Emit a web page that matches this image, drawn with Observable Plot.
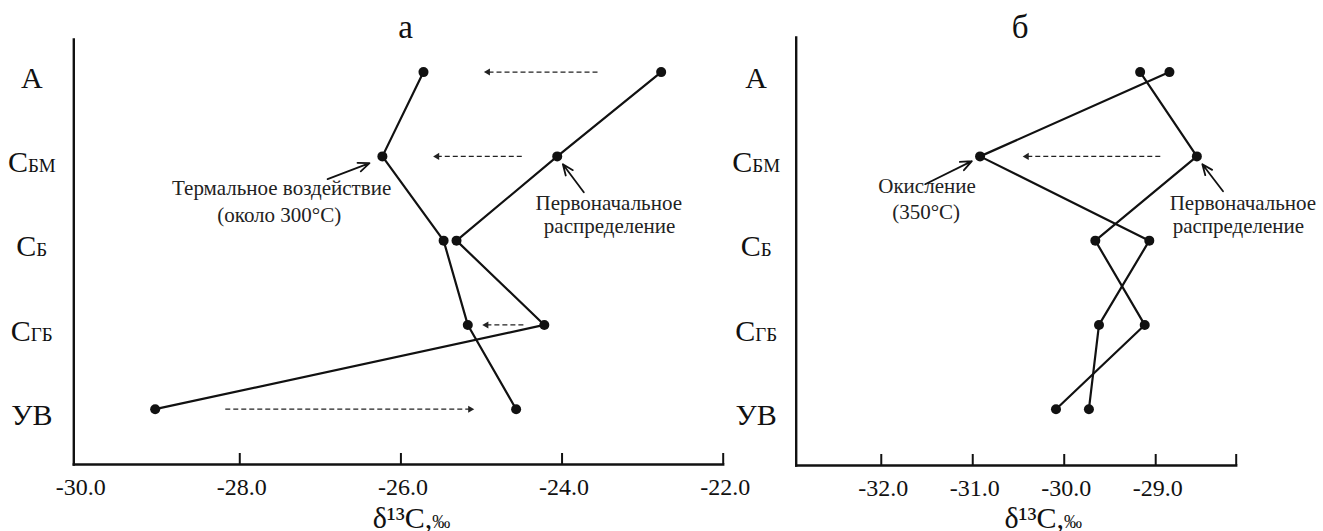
<!DOCTYPE html>
<html>
<head>
<meta charset="utf-8">
<script src="https://cdn.jsdelivr.net/npm/d3@7"></script>
<script src="https://cdn.jsdelivr.net/npm/@observablehq/plot@0.6"></script>
</head>
<body style="margin:0;background:#fff">
<div id="wrap" style="display:flex;width:1323px;height:531px;background:#fff"></div>
<script>
// ---- categories (rows, top to bottom) ----
const rowIndex = [0, 1, 2, 3, 4];
const rowMain = ["А", "С", "С", "С", "УВ"];
const rowSub  = ["",  "БМ", "Б", "ГБ", ""];

// ---- panel а: δ13C, ‰ ----
const aThermal = [-25.72, -26.23, -25.47, -25.17, -24.57]; // термальное воздействие (~300°C)
const aInitial = [-22.77, -24.06, -25.31, -24.22, -29.05]; // первоначальное распределение
const aDomain = [-30.06, -22.0];
const aTicks = [-30, -28, -26, -24, -22];
const aShiftRow  = [0, 1, 3, 4];
const aShiftFrom = [-23.56, -24.50, -24.48, -28.18];
const aShiftTo   = [-24.92, -25.55, -24.94, -25.14];

// ---- panel б: δ13C, ‰ ----
const bOxid    = [-28.85, -30.92, -29.07, -29.62, -29.73]; // окисление (350°C)
const bInitial = [-29.17, -28.55, -29.66, -29.12, -30.09]; // первоначальное распределение
const bDomain = [-32.93, -28.12];
const bTicks = [-32, -31, -30, -29];
const bShiftRow  = [1];
const bShiftFrom = [-28.95];
const bShiftTo   = [-30.41];

// ---- annotations ----
const aArrows = [
  {x1: -26.91, y1: 1.27,  x2: -26.39, y2: 1.08},
  {x1: -23.73, y1: 1.425, x2: -23.99, y2: 1.093}
];
const aNotes = [
  {x: -27.48, y: 1.377, t: "Термальное воздействие"},
  {x: -27.51, y: 1.70,  t: "(около 300°C)"},
  {x: -23.42, y: 1.555, t: "Первоначальное"},
  {x: -23.41, y: 1.828, t: "распределение"}
];
const bArrows = [
  {x1: -31.52,  y1: 1.33,  x2: -31.01, y2: 1.057},
  {x1: -28.264, y1: 1.413, x2: -28.49, y2: 1.093}
];
const bNotes = [
  {x: -31.50,  y: 1.354, t: "Окисление"},
  {x: -31.51,  y: 1.663, t: "(350°C)"},
  {x: -28.047, y: 1.555, t: "Первоначальное"},
  {x: -28.096, y: 1.828, t: "распределение"}
];
const axisLabel = "δ¹³C,‰";
const FONT = "Liberation Serif";

function panel(o) {
  const shiftIdx = o.shiftRow.map((_, i) => i);
  const frameH = o.height - o.marginTop - o.marginBottom;
  return Plot.plot({
    width: o.width, height: o.height,
    marginLeft: o.marginLeft, marginRight: o.marginRight,
    marginTop: o.marginTop, marginBottom: o.marginBottom,
    x: {domain: o.domain},
    y: {domain: [0, 4], range: [71.6, 408.7]},
    marks: [
      Plot.frame({anchor: "left", strokeWidth: 2.4, stroke: "#111"}),
      Plot.frame({anchor: "bottom", strokeWidth: 2.4, stroke: "#111"}),
      Plot.ruleX(o.tickMarks, {x: d => d, insetTop: frameH - 11, strokeWidth: 2, stroke: "#111"}),
      Plot.axisX(o.ticks, {tickSize: 0, tickPadding: 13, fontSize: 24, dx: 2, tickFormat: d => d.toFixed(1), fill: "#111"}),
      Plot.axisY(rowIndex, {tickSize: 0, tickPadding: o.labelPad, textAnchor: "middle", fontSize: 30, dy: 6,
        tickFormat: i => rowMain[i] + rowSub[i], fill: "#111"}),
      Plot.link(shiftIdx, {x1: i => o.shiftFrom[i], x2: i => o.shiftTo[i], y1: i => o.shiftRow[i], y2: i => o.shiftRow[i],
        stroke: "#222", strokeWidth: 1.3, strokeDasharray: "5,3"}),
      Plot.dot(shiftIdx, {x: i => o.shiftTo[i], y: i => o.shiftRow[i], symbol: "triangle", r: 2.6, fill: "#222", stroke: "none",
        rotate: i => o.shiftTo[i] < o.shiftFrom[i] ? -90 : 90}),
      Plot.line(rowIndex, {x: i => o.s1[i], y: i => i, stroke: "#111", strokeWidth: 2.2}),
      Plot.line(rowIndex, {x: i => o.s2[i], y: i => i, stroke: "#111", strokeWidth: 2.2}),
      Plot.dot(rowIndex, {x: i => o.s1[i], y: i => i, r: 5, fill: "#111", stroke: "none"}),
      Plot.dot(rowIndex, {x: i => o.s2[i], y: i => i, r: 5, fill: "#111", stroke: "none"}),
      Plot.arrow(o.arrows, {x1: "x1", y1: "y1", x2: "x2", y2: "y2", stroke: "#111", strokeWidth: 1.8, headLength: 10, headAngle: 45}),
      Plot.text(o.notes, {x: "x", y: "y", text: "t", fontSize: 21, fill: "#222"}),
      Plot.text([o.title], {frameAnchor: "top", lineAnchor: "middle", dy: o.titleDy, dx: o.titleDx, fontSize: 33, fill: "#111"}),
      Plot.text([axisLabel], {frameAnchor: "bottom", lineAnchor: "middle", dy: o.labelDy, dx: o.labelDx, fontSize: 30, fill: "#111"})
    ]
  });
}

function finish(svg) {
  svg.style.overflow = "visible";
  svg.style.background = "transparent";
  svg.querySelectorAll('g[aria-label="y-axis tick label"] text').forEach(t => {
    const s = t.textContent;
    const k = rowIndex.find(i => rowMain[i] + rowSub[i] === s);
    if (k !== undefined && rowSub[k]) {
      t.textContent = rowMain[k];
      const ts = document.createElementNS("http://www.w3.org/2000/svg", "tspan");
      ts.setAttribute("font-size", "19");
      ts.textContent = rowSub[k];
      t.appendChild(ts);
    }
  });
  svg.querySelectorAll("text").forEach(t => {
    if (t.textContent === axisLabel) {
      t.textContent = axisLabel.slice(0, -1);
      const ts = document.createElementNS("http://www.w3.org/2000/svg", "tspan");
      ts.setAttribute("font-size", "18");
      ts.textContent = axisLabel.slice(-1);
      t.appendChild(ts);
    }
  });
  return svg;
}

const wrap = document.getElementById("wrap");
const svgA = finish(panel({
  width: 740, height: 531, marginLeft: 73.3, marginRight: 17.3, marginTop: 39, marginBottom: 67,
  domain: aDomain, ticks: aTicks, tickMarks: aTicks.slice(1), labelPad: 42,
  s1: aThermal, s2: aInitial,
  shiftRow: aShiftRow, shiftFrom: aShiftFrom, shiftTo: aShiftTo,
  arrows: aArrows, notes: aNotes,
  title: "а", titleDy: -12, titleDx: 7, labelDy: 53.4, labelDx: 13
}));
const svgB = finish(panel({
  width: 583, height: 531, marginLeft: 55.7, marginRight: 87.3, marginTop: 37, marginBottom: 66,
  domain: bDomain, ticks: bTicks, tickMarks: bTicks.concat([bDomain[1]]), labelPad: 40,
  s1: bOxid, s2: bInitial,
  shiftRow: bShiftRow, shiftFrom: bShiftFrom, shiftTo: bShiftTo,
  arrows: bArrows, notes: bNotes,
  title: "б", titleDy: -10, titleDx: 4, labelDy: 52.5, labelDx: 27
}));
wrap.appendChild(svgA);
wrap.appendChild(svgB);
for (const svg of [svgA, svgB]) {
  svg.setAttribute("font-family", FONT);
  svg.querySelectorAll("g").forEach(g => { if (g.hasAttribute("font-family")) g.setAttribute("font-family", FONT); });
  svg.querySelectorAll("text").forEach(t => {
    t.setAttribute("font-family", FONT);
    t.style.fontFamily = '"' + FONT + '"';
  });
}
</script>
</body>
</html>
